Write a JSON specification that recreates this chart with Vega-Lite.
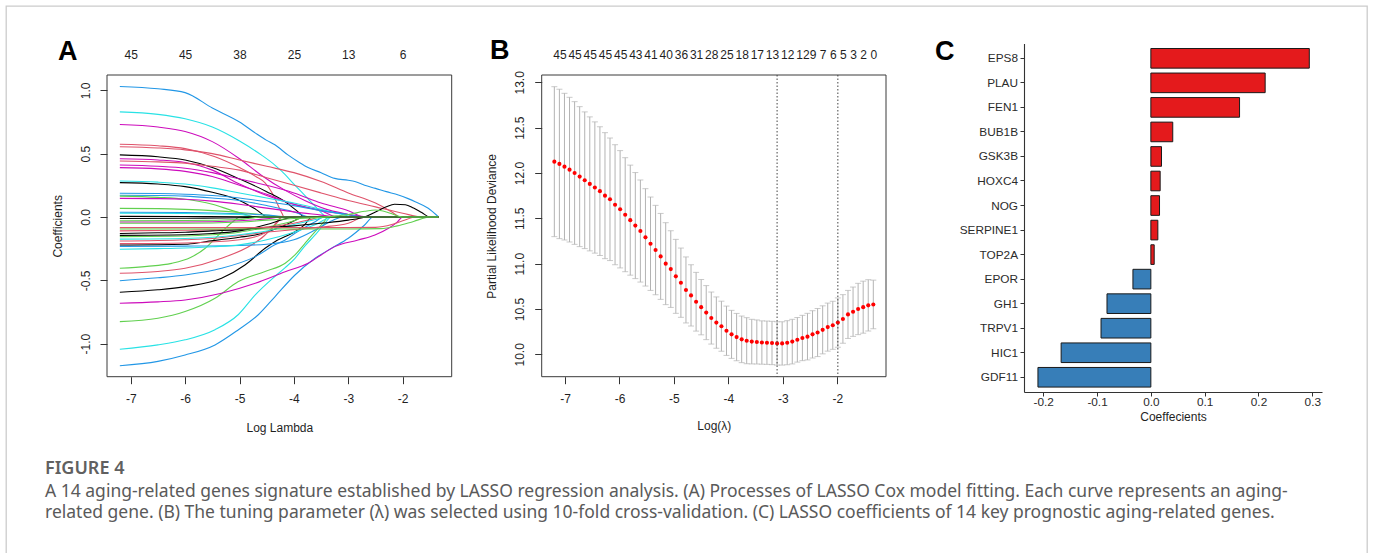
{
  "$schema": "https://vega.github.io/schema/vega-lite/v6.json",
  "width": 1361,
  "height": 547,
  "autosize": "none",
  "padding": {"left": 6, "top": 6, "right": 8, "bottom": 0},
  "background": "white",
  "config": {
    "font": "Liberation Sans",
    "view": {"stroke": "#cccccc", "strokeWidth": 1.3, "strokeDash": [1908, 1361, 547]},
    "axis": {
      "grid": false,
      "labelFont": "Liberation Sans",
      "titleFont": "Liberation Sans",
      "labelFontSize": 12,
      "titleFontSize": 12,
      "titleFontWeight": "normal",
      "labelColor": "#1f1f1f",
      "titleColor": "#1f1f1f",
      "tickColor": "#333333",
      "tickWidth": 1,
      "domainColor": "#333333",
      "labelOverlap": false,
      "labelFlush": false,
      "labelBound": false
    }
  },
  "title": {
    "text": "FIGURE 4",
    "subtitle": [
      "A 14 aging-related genes signature established by LASSO regression analysis. (A) Processes of LASSO Cox model fitting. Each curve represents an aging-",
      "related gene. (B) The tuning parameter (λ) was selected using 10-fold cross-validation. (C) LASSO coefficients of 14 key prognostic aging-related genes."
    ],
    "orient": "bottom",
    "anchor": "start",
    "frame": "group",
    "offset": -92.6,
    "dx": 39,
    "font": "Noto Sans",
    "fontSize": 18,
    "fontWeight": 600,
    "color": "#606060",
    "subtitleFont": "Noto Sans",
    "subtitleFontSize": 17.5,
    "subtitleColor": "#5a5a5a",
    "subtitlePadding": 4.6,
    "subtitleLineHeight": 21.3
  },
  "datasets": {
    "paths": [
      {"curve":"p1","pal":"4","logLambda":-7.2,"coef":1.03},{"curve":"p1","pal":"4","logLambda":-6.5,"coef":1.012},{"curve":"p1","pal":"4","logLambda":-6.0,"coef":0.982},{"curve":"p1","pal":"4","logLambda":-5.5,"coef":0.86},{"curve":"p1","pal":"4","logLambda":-5.0,"coef":0.75},{"curve":"p1","pal":"4","logLambda":-4.7,"coef":0.66},{"curve":"p1","pal":"4","logLambda":-4.5,"coef":0.605},{"curve":"p1","pal":"4","logLambda":-4.35,"coef":0.57},{"curve":"p1","pal":"4","logLambda":-4.11,"coef":0.49},{"curve":"p1","pal":"4","logLambda":-3.9,"coef":0.43},{"curve":"p1","pal":"4","logLambda":-3.74,"coef":0.39},{"curve":"p1","pal":"4","logLambda":-3.5,"coef":0.35},{"curve":"p1","pal":"4","logLambda":-3.25,"coef":0.305},{"curve":"p1","pal":"4","logLambda":-3.0,"coef":0.29},{"curve":"p1","pal":"4","logLambda":-2.88,"coef":0.28},{"curve":"p1","pal":"4","logLambda":-2.7,"coef":0.25},{"curve":"p1","pal":"4","logLambda":-2.5,"coef":0.226},{"curve":"p1","pal":"4","logLambda":-2.3,"coef":0.2},{"curve":"p1","pal":"4","logLambda":-2.08,"coef":0.174},{"curve":"p1","pal":"4","logLambda":-1.9,"coef":0.145},{"curve":"p1","pal":"4","logLambda":-1.77,"coef":0.121},{"curve":"p1","pal":"4","logLambda":-1.53,"coef":0.069},{"curve":"p1","pal":"4","logLambda":-1.34,"coef":0},
      {"curve":"p2","pal":"5","logLambda":-7.2,"coef":0.83},{"curve":"p2","pal":"5","logLambda":-6.5,"coef":0.81},{"curve":"p2","pal":"5","logLambda":-6.0,"coef":0.775},{"curve":"p2","pal":"5","logLambda":-5.5,"coef":0.71},{"curve":"p2","pal":"5","logLambda":-5.0,"coef":0.6},{"curve":"p2","pal":"5","logLambda":-4.6,"coef":0.49},{"curve":"p2","pal":"5","logLambda":-4.35,"coef":0.41},{"curve":"p2","pal":"5","logLambda":-4.22,"coef":0.36},{"curve":"p2","pal":"5","logLambda":-4.0,"coef":0.26},{"curve":"p2","pal":"5","logLambda":-3.8,"coef":0.17},{"curve":"p2","pal":"5","logLambda":-3.6,"coef":0.08},{"curve":"p2","pal":"5","logLambda":-3.5,"coef":0.035},{"curve":"p2","pal":"5","logLambda":-3.4,"coef":0},{"curve":"p2","pal":"5","logLambda":-1.34,"coef":0},
      {"curve":"p3","pal":"6","logLambda":-7.2,"coef":0.73},{"curve":"p3","pal":"6","logLambda":-6.5,"coef":0.71},{"curve":"p3","pal":"6","logLambda":-6.0,"coef":0.675},{"curve":"p3","pal":"6","logLambda":-5.5,"coef":0.595},{"curve":"p3","pal":"6","logLambda":-5.0,"coef":0.46},{"curve":"p3","pal":"6","logLambda":-4.6,"coef":0.33},{"curve":"p3","pal":"6","logLambda":-4.16,"coef":0.21},{"curve":"p3","pal":"6","logLambda":-3.8,"coef":0.13},{"curve":"p3","pal":"6","logLambda":-3.4,"coef":0.06},{"curve":"p3","pal":"6","logLambda":-3.0,"coef":0.02},{"curve":"p3","pal":"6","logLambda":-2.8,"coef":0},{"curve":"p3","pal":"6","logLambda":-1.34,"coef":0},
      {"curve":"p4","pal":"2","logLambda":-7.2,"coef":0.574},{"curve":"p4","pal":"2","logLambda":-6.5,"coef":0.562},{"curve":"p4","pal":"2","logLambda":-6.0,"coef":0.54},{"curve":"p4","pal":"2","logLambda":-5.45,"coef":0.476},{"curve":"p4","pal":"2","logLambda":-5.0,"coef":0.39},{"curve":"p4","pal":"2","logLambda":-4.7,"coef":0.32},{"curve":"p4","pal":"2","logLambda":-4.53,"coef":0.27},{"curve":"p4","pal":"2","logLambda":-4.4,"coef":0.19},{"curve":"p4","pal":"2","logLambda":-4.3,"coef":0.1},{"curve":"p4","pal":"2","logLambda":-4.22,"coef":0.03},{"curve":"p4","pal":"2","logLambda":-4.18,"coef":0},{"curve":"p4","pal":"2","logLambda":-1.34,"coef":0},
      {"curve":"p5","pal":"2","logLambda":-7.2,"coef":0.555},{"curve":"p5","pal":"2","logLambda":-6.5,"coef":0.545},{"curve":"p5","pal":"2","logLambda":-6.0,"coef":0.53},{"curve":"p5","pal":"2","logLambda":-5.5,"coef":0.5},{"curve":"p5","pal":"2","logLambda":-5.0,"coef":0.45},{"curve":"p5","pal":"2","logLambda":-4.5,"coef":0.4},{"curve":"p5","pal":"2","logLambda":-4.0,"coef":0.35},{"curve":"p5","pal":"2","logLambda":-3.5,"coef":0.28},{"curve":"p5","pal":"2","logLambda":-3.0,"coef":0.19},{"curve":"p5","pal":"2","logLambda":-2.5,"coef":0.11},{"curve":"p5","pal":"2","logLambda":-2.2,"coef":0.04},{"curve":"p5","pal":"2","logLambda":-2.05,"coef":0},{"curve":"p5","pal":"2","logLambda":-1.34,"coef":0},
      {"curve":"p6","pal":"1","logLambda":-7.2,"coef":0.49},{"curve":"p6","pal":"1","logLambda":-6.5,"coef":0.475},{"curve":"p6","pal":"1","logLambda":-6.0,"coef":0.45},{"curve":"p6","pal":"1","logLambda":-5.5,"coef":0.39},{"curve":"p6","pal":"1","logLambda":-5.0,"coef":0.3},{"curve":"p6","pal":"1","logLambda":-4.5,"coef":0.2},{"curve":"p6","pal":"1","logLambda":-4.16,"coef":0.12},{"curve":"p6","pal":"1","logLambda":-3.95,"coef":0.05},{"curve":"p6","pal":"1","logLambda":-3.8,"coef":0},{"curve":"p6","pal":"1","logLambda":-1.34,"coef":0},
      {"curve":"p7","pal":"6","logLambda":-7.2,"coef":0.46},{"curve":"p7","pal":"6","logLambda":-6.5,"coef":0.45},{"curve":"p7","pal":"6","logLambda":-6.0,"coef":0.43},{"curve":"p7","pal":"6","logLambda":-5.5,"coef":0.37},{"curve":"p7","pal":"6","logLambda":-5.0,"coef":0.26},{"curve":"p7","pal":"6","logLambda":-4.5,"coef":0.17},{"curve":"p7","pal":"6","logLambda":-4.0,"coef":0.1},{"curve":"p7","pal":"6","logLambda":-3.5,"coef":0.05},{"curve":"p7","pal":"6","logLambda":-3.0,"coef":0.02},{"curve":"p7","pal":"6","logLambda":-2.6,"coef":0},{"curve":"p7","pal":"6","logLambda":-1.34,"coef":0},
      {"curve":"p8","pal":"2","logLambda":-7.2,"coef":0.442},{"curve":"p8","pal":"2","logLambda":-6.5,"coef":0.435},{"curve":"p8","pal":"2","logLambda":-6.0,"coef":0.425},{"curve":"p8","pal":"2","logLambda":-5.5,"coef":0.4},{"curve":"p8","pal":"2","logLambda":-5.0,"coef":0.37},{"curve":"p8","pal":"2","logLambda":-4.5,"coef":0.31},{"curve":"p8","pal":"2","logLambda":-4.0,"coef":0.25},{"curve":"p8","pal":"2","logLambda":-3.5,"coef":0.19},{"curve":"p8","pal":"2","logLambda":-3.0,"coef":0.13},{"curve":"p8","pal":"2","logLambda":-2.5,"coef":0.08},{"curve":"p8","pal":"2","logLambda":-2.0,"coef":0.03},{"curve":"p8","pal":"2","logLambda":-1.65,"coef":0},{"curve":"p8","pal":"2","logLambda":-1.34,"coef":0},
      {"curve":"p9","pal":"6","logLambda":-7.2,"coef":0.41},{"curve":"p9","pal":"6","logLambda":-6.5,"coef":0.4},{"curve":"p9","pal":"6","logLambda":-6.0,"coef":0.385},{"curve":"p9","pal":"6","logLambda":-5.5,"coef":0.35},{"curve":"p9","pal":"6","logLambda":-5.0,"coef":0.3},{"curve":"p9","pal":"6","logLambda":-4.5,"coef":0.25},{"curve":"p9","pal":"6","logLambda":-4.0,"coef":0.19},{"curve":"p9","pal":"6","logLambda":-3.5,"coef":0.11},{"curve":"p9","pal":"6","logLambda":-3.0,"coef":0.05},{"curve":"p9","pal":"6","logLambda":-2.7,"coef":0},{"curve":"p9","pal":"6","logLambda":-1.34,"coef":0},
      {"curve":"p10","pal":"6","logLambda":-7.2,"coef":0.39},{"curve":"p10","pal":"6","logLambda":-6.5,"coef":0.38},{"curve":"p10","pal":"6","logLambda":-6.0,"coef":0.36},{"curve":"p10","pal":"6","logLambda":-5.5,"coef":0.32},{"curve":"p10","pal":"6","logLambda":-5.0,"coef":0.25},{"curve":"p10","pal":"6","logLambda":-4.5,"coef":0.18},{"curve":"p10","pal":"6","logLambda":-4.0,"coef":0.1},{"curve":"p10","pal":"6","logLambda":-3.5,"coef":0.05},{"curve":"p10","pal":"6","logLambda":-3.2,"coef":0},{"curve":"p10","pal":"6","logLambda":-1.34,"coef":0},
      {"curve":"p11","pal":"5","logLambda":-7.2,"coef":0.284},{"curve":"p11","pal":"5","logLambda":-6.5,"coef":0.275},{"curve":"p11","pal":"5","logLambda":-6.0,"coef":0.26},{"curve":"p11","pal":"5","logLambda":-5.5,"coef":0.23},{"curve":"p11","pal":"5","logLambda":-5.0,"coef":0.19},{"curve":"p11","pal":"5","logLambda":-4.5,"coef":0.15},{"curve":"p11","pal":"5","logLambda":-4.0,"coef":0.11},{"curve":"p11","pal":"5","logLambda":-3.5,"coef":0.06},{"curve":"p11","pal":"5","logLambda":-3.1,"coef":0.02},{"curve":"p11","pal":"5","logLambda":-2.9,"coef":0},{"curve":"p11","pal":"5","logLambda":-1.34,"coef":0},
      {"curve":"p12","pal":"1","logLambda":-7.2,"coef":0.271},{"curve":"p12","pal":"1","logLambda":-6.5,"coef":0.26},{"curve":"p12","pal":"1","logLambda":-6.0,"coef":0.24},{"curve":"p12","pal":"1","logLambda":-5.5,"coef":0.195},{"curve":"p12","pal":"1","logLambda":-5.0,"coef":0.13},{"curve":"p12","pal":"1","logLambda":-4.7,"coef":0.06},{"curve":"p12","pal":"1","logLambda":-4.47,"coef":0},{"curve":"p12","pal":"1","logLambda":-1.34,"coef":0},
      {"curve":"p13","pal":"4","logLambda":-7.2,"coef":0.187},{"curve":"p13","pal":"4","logLambda":-6.5,"coef":0.185},{"curve":"p13","pal":"4","logLambda":-6.0,"coef":0.18},{"curve":"p13","pal":"4","logLambda":-5.5,"coef":0.17},{"curve":"p13","pal":"4","logLambda":-5.0,"coef":0.15},{"curve":"p13","pal":"4","logLambda":-4.5,"coef":0.12},{"curve":"p13","pal":"4","logLambda":-4.0,"coef":0.09},{"curve":"p13","pal":"4","logLambda":-3.5,"coef":0.05},{"curve":"p13","pal":"4","logLambda":-3.0,"coef":0.02},{"curve":"p13","pal":"4","logLambda":-2.7,"coef":0},{"curve":"p13","pal":"4","logLambda":-1.34,"coef":0},
      {"curve":"p14","pal":"4","logLambda":-7.2,"coef":0.172},{"curve":"p14","pal":"4","logLambda":-6.5,"coef":0.17},{"curve":"p14","pal":"4","logLambda":-6.0,"coef":0.165},{"curve":"p14","pal":"4","logLambda":-5.5,"coef":0.15},{"curve":"p14","pal":"4","logLambda":-5.0,"coef":0.13},{"curve":"p14","pal":"4","logLambda":-4.5,"coef":0.09},{"curve":"p14","pal":"4","logLambda":-4.0,"coef":0.04},{"curve":"p14","pal":"4","logLambda":-3.7,"coef":0},{"curve":"p14","pal":"4","logLambda":-1.34,"coef":0},
      {"curve":"p15","pal":"3","logLambda":-7.2,"coef":0.165},{"curve":"p15","pal":"3","logLambda":-6.5,"coef":0.155},{"curve":"p15","pal":"3","logLambda":-6.0,"coef":0.14},{"curve":"p15","pal":"3","logLambda":-5.5,"coef":0.1},{"curve":"p15","pal":"3","logLambda":-5.2,"coef":0.06},{"curve":"p15","pal":"3","logLambda":-4.9,"coef":0.02},{"curve":"p15","pal":"3","logLambda":-4.7,"coef":0},{"curve":"p15","pal":"3","logLambda":-1.34,"coef":0},
      {"curve":"p16","pal":"6","logLambda":-7.2,"coef":0.147},{"curve":"p16","pal":"6","logLambda":-6.5,"coef":0.145},{"curve":"p16","pal":"6","logLambda":-6.0,"coef":0.14},{"curve":"p16","pal":"6","logLambda":-5.5,"coef":0.125},{"curve":"p16","pal":"6","logLambda":-5.0,"coef":0.1},{"curve":"p16","pal":"6","logLambda":-4.5,"coef":0.07},{"curve":"p16","pal":"6","logLambda":-4.0,"coef":0.04},{"curve":"p16","pal":"6","logLambda":-3.5,"coef":0.015},{"curve":"p16","pal":"6","logLambda":-3.2,"coef":0},{"curve":"p16","pal":"6","logLambda":-1.34,"coef":0},
      {"curve":"p17","pal":"3","logLambda":-7.2,"coef":0.068},{"curve":"p17","pal":"3","logLambda":-6.5,"coef":0.066},{"curve":"p17","pal":"3","logLambda":-6.0,"coef":0.06},{"curve":"p17","pal":"3","logLambda":-5.5,"coef":0.05},{"curve":"p17","pal":"3","logLambda":-5.0,"coef":0.035},{"curve":"p17","pal":"3","logLambda":-4.5,"coef":0.015},{"curve":"p17","pal":"3","logLambda":-4.2,"coef":0},{"curve":"p17","pal":"3","logLambda":-1.34,"coef":0},
      {"curve":"p18","pal":"4","logLambda":-7.2,"coef":0.037},{"curve":"p18","pal":"4","logLambda":-6.0,"coef":0.035},{"curve":"p18","pal":"4","logLambda":-5.0,"coef":0.025},{"curve":"p18","pal":"4","logLambda":-4.5,"coef":0.015},{"curve":"p18","pal":"4","logLambda":-4.0,"coef":0},{"curve":"p18","pal":"4","logLambda":-1.34,"coef":0},
      {"curve":"p19","pal":"5","logLambda":-7.2,"coef":0.03},{"curve":"p19","pal":"5","logLambda":-6.0,"coef":0.028},{"curve":"p19","pal":"5","logLambda":-5.0,"coef":0.02},{"curve":"p19","pal":"5","logLambda":-4.7,"coef":0},{"curve":"p19","pal":"5","logLambda":-1.34,"coef":0},
      {"curve":"n20","pal":"4","logLambda":-7.2,"coef":-1.174},{"curve":"n20","pal":"4","logLambda":-6.5,"coef":-1.14},{"curve":"n20","pal":"4","logLambda":-6.0,"coef":-1.09},{"curve":"n20","pal":"4","logLambda":-5.45,"coef":-1.01},{"curve":"n20","pal":"4","logLambda":-5.02,"coef":-0.89},{"curve":"n20","pal":"4","logLambda":-4.65,"coef":-0.77},{"curve":"n20","pal":"4","logLambda":-4.35,"coef":-0.63},{"curve":"n20","pal":"4","logLambda":-3.98,"coef":-0.458},{"curve":"n20","pal":"4","logLambda":-3.61,"coef":-0.326},{"curve":"n20","pal":"4","logLambda":-3.31,"coef":-0.247},{"curve":"n20","pal":"4","logLambda":-3.0,"coef":-0.168},{"curve":"n20","pal":"4","logLambda":-2.7,"coef":-0.063},{"curve":"n20","pal":"4","logLambda":-2.54,"coef":0},{"curve":"n20","pal":"4","logLambda":-1.34,"coef":0},
      {"curve":"n19","pal":"5","logLambda":-7.2,"coef":-1.044},{"curve":"n19","pal":"5","logLambda":-6.5,"coef":-1.01},{"curve":"n19","pal":"5","logLambda":-6.0,"coef":-0.97},{"curve":"n19","pal":"5","logLambda":-5.45,"coef":-0.89},{"curve":"n19","pal":"5","logLambda":-5.02,"coef":-0.77},{"curve":"n19","pal":"5","logLambda":-4.71,"coef":-0.615},{"curve":"n19","pal":"5","logLambda":-4.35,"coef":-0.47},{"curve":"n19","pal":"5","logLambda":-4.16,"coef":-0.4},{"curve":"n19","pal":"5","logLambda":-3.98,"coef":-0.326},{"curve":"n19","pal":"5","logLambda":-3.8,"coef":-0.23},{"curve":"n19","pal":"5","logLambda":-3.61,"coef":-0.142},{"curve":"n19","pal":"5","logLambda":-3.45,"coef":-0.06},{"curve":"n19","pal":"5","logLambda":-3.31,"coef":0},{"curve":"n19","pal":"5","logLambda":-1.34,"coef":0},
      {"curve":"n18","pal":"3","logLambda":-7.2,"coef":-0.826},{"curve":"n18","pal":"3","logLambda":-6.5,"coef":-0.8},{"curve":"n18","pal":"3","logLambda":-6.0,"coef":-0.747},{"curve":"n18","pal":"3","logLambda":-5.45,"coef":-0.642},{"curve":"n18","pal":"3","logLambda":-5.02,"coef":-0.51},{"curve":"n18","pal":"3","logLambda":-4.53,"coef":-0.43},{"curve":"n18","pal":"3","logLambda":-4.16,"coef":-0.365},{"curve":"n18","pal":"3","logLambda":-3.98,"coef":-0.3},{"curve":"n18","pal":"3","logLambda":-3.8,"coef":-0.21},{"curve":"n18","pal":"3","logLambda":-3.61,"coef":-0.116},{"curve":"n18","pal":"3","logLambda":-3.45,"coef":-0.04},{"curve":"n18","pal":"3","logLambda":-3.37,"coef":0},{"curve":"n18","pal":"3","logLambda":-1.34,"coef":0},
      {"curve":"n17","pal":"6","logLambda":-7.2,"coef":-0.681},{"curve":"n17","pal":"6","logLambda":-6.5,"coef":-0.67},{"curve":"n17","pal":"6","logLambda":-6.0,"coef":-0.655},{"curve":"n17","pal":"6","logLambda":-5.33,"coef":-0.602},{"curve":"n17","pal":"6","logLambda":-4.71,"coef":-0.523},{"curve":"n17","pal":"6","logLambda":-4.16,"coef":-0.432},{"curve":"n17","pal":"6","logLambda":-3.74,"coef":-0.366},{"curve":"n17","pal":"6","logLambda":-3.5,"coef":-0.3},{"curve":"n17","pal":"6","logLambda":-3.25,"coef":-0.234},{"curve":"n17","pal":"6","logLambda":-2.82,"coef":-0.182},{"curve":"n17","pal":"6","logLambda":-2.51,"coef":-0.142},{"curve":"n17","pal":"6","logLambda":-2.26,"coef":-0.089},{"curve":"n17","pal":"6","logLambda":-2.1,"coef":-0.04},{"curve":"n17","pal":"6","logLambda":-2.0,"coef":0},{"curve":"n17","pal":"6","logLambda":-1.34,"coef":0},
      {"curve":"n16","pal":"1","logLambda":-7.2,"coef":-0.594},{"curve":"n16","pal":"1","logLambda":-6.5,"coef":-0.575},{"curve":"n16","pal":"1","logLambda":-6.0,"coef":-0.55},{"curve":"n16","pal":"1","logLambda":-5.33,"coef":-0.484},{"curve":"n16","pal":"1","logLambda":-4.9,"coef":-0.379},{"curve":"n16","pal":"1","logLambda":-4.53,"coef":-0.247},{"curve":"n16","pal":"1","logLambda":-4.35,"coef":-0.195},{"curve":"n16","pal":"1","logLambda":-4.16,"coef":-0.155},{"curve":"n16","pal":"1","logLambda":-3.98,"coef":-0.116},{"curve":"n16","pal":"1","logLambda":-3.8,"coef":-0.06},{"curve":"n16","pal":"1","logLambda":-3.67,"coef":0},{"curve":"n16","pal":"1","logLambda":-1.34,"coef":0},
      {"curve":"n15","pal":"4","logLambda":-7.2,"coef":-0.503},{"curve":"n15","pal":"4","logLambda":-6.5,"coef":-0.48},{"curve":"n15","pal":"4","logLambda":-6.0,"coef":-0.458},{"curve":"n15","pal":"4","logLambda":-5.33,"coef":-0.405},{"curve":"n15","pal":"4","logLambda":-4.71,"coef":-0.313},{"curve":"n15","pal":"4","logLambda":-4.35,"coef":-0.22},{"curve":"n15","pal":"4","logLambda":-4.16,"coef":-0.182},{"curve":"n15","pal":"4","logLambda":-3.98,"coef":-0.129},{"curve":"n15","pal":"4","logLambda":-3.61,"coef":-0.037},{"curve":"n15","pal":"4","logLambda":-3.45,"coef":0},{"curve":"n15","pal":"4","logLambda":-1.34,"coef":0},
      {"curve":"n14","pal":"2","logLambda":-7.2,"coef":-0.444},{"curve":"n14","pal":"2","logLambda":-6.5,"coef":-0.43},{"curve":"n14","pal":"2","logLambda":-6.0,"coef":-0.405},{"curve":"n14","pal":"2","logLambda":-5.33,"coef":-0.326},{"curve":"n14","pal":"2","logLambda":-4.78,"coef":-0.221},{"curve":"n14","pal":"2","logLambda":-4.55,"coef":-0.15},{"curve":"n14","pal":"2","logLambda":-4.41,"coef":-0.09},{"curve":"n14","pal":"2","logLambda":-4.3,"coef":-0.03},{"curve":"n14","pal":"2","logLambda":-4.23,"coef":0},{"curve":"n14","pal":"2","logLambda":-1.34,"coef":0},
      {"curve":"n13","pal":"3","logLambda":-7.2,"coef":-0.405},{"curve":"n13","pal":"3","logLambda":-6.7,"coef":-0.39},{"curve":"n13","pal":"3","logLambda":-6.25,"coef":-0.366},{"curve":"n13","pal":"3","logLambda":-5.9,"coef":-0.32},{"curve":"n13","pal":"3","logLambda":-5.63,"coef":-0.247},{"curve":"n13","pal":"3","logLambda":-5.45,"coef":-0.17},{"curve":"n13","pal":"3","logLambda":-5.26,"coef":-0.09},{"curve":"n13","pal":"3","logLambda":-5.1,"coef":-0.03},{"curve":"n13","pal":"3","logLambda":-5.0,"coef":0},{"curve":"n13","pal":"3","logLambda":-1.34,"coef":0},
      {"curve":"n12","pal":"4","logLambda":-7.2,"coef":-0.232},{"curve":"n12","pal":"4","logLambda":-6.0,"coef":-0.23},{"curve":"n12","pal":"4","logLambda":-5.0,"coef":-0.225},{"curve":"n12","pal":"4","logLambda":-4.5,"coef":-0.215},{"curve":"n12","pal":"4","logLambda":-4.0,"coef":-0.18},{"curve":"n12","pal":"4","logLambda":-3.6,"coef":-0.1},{"curve":"n12","pal":"4","logLambda":-3.3,"coef":-0.03},{"curve":"n12","pal":"4","logLambda":-3.1,"coef":0},{"curve":"n12","pal":"4","logLambda":-1.34,"coef":0},
      {"curve":"n11","pal":"5","logLambda":-7.2,"coef":-0.255},{"curve":"n11","pal":"5","logLambda":-6.5,"coef":-0.25},{"curve":"n11","pal":"5","logLambda":-6.0,"coef":-0.245},{"curve":"n11","pal":"5","logLambda":-5.5,"coef":-0.235},{"curve":"n11","pal":"5","logLambda":-5.0,"coef":-0.22},{"curve":"n11","pal":"5","logLambda":-4.5,"coef":-0.18},{"curve":"n11","pal":"5","logLambda":-4.0,"coef":-0.12},{"curve":"n11","pal":"5","logLambda":-3.6,"coef":-0.06},{"curve":"n11","pal":"5","logLambda":-3.3,"coef":0},{"curve":"n11","pal":"5","logLambda":-1.34,"coef":0},
      {"curve":"n10","pal":"1","logLambda":-7.2,"coef":-0.221},{"curve":"n10","pal":"1","logLambda":-6.0,"coef":-0.215},{"curve":"n10","pal":"1","logLambda":-5.63,"coef":-0.195},{"curve":"n10","pal":"1","logLambda":-5.0,"coef":-0.16},{"curve":"n10","pal":"1","logLambda":-4.71,"coef":-0.142},{"curve":"n10","pal":"1","logLambda":-4.16,"coef":-0.063},{"curve":"n10","pal":"1","logLambda":-3.95,"coef":-0.02},{"curve":"n10","pal":"1","logLambda":-3.85,"coef":0},{"curve":"n10","pal":"1","logLambda":-1.34,"coef":0},
      {"curve":"n9","pal":"2","logLambda":-7.2,"coef":-0.21},{"curve":"n9","pal":"2","logLambda":-6.0,"coef":-0.205},{"curve":"n9","pal":"2","logLambda":-5.0,"coef":-0.18},{"curve":"n9","pal":"2","logLambda":-4.6,"coef":-0.14},{"curve":"n9","pal":"2","logLambda":-4.4,"coef":-0.09},{"curve":"n9","pal":"2","logLambda":-4.28,"coef":-0.03},{"curve":"n9","pal":"2","logLambda":-4.22,"coef":0},{"curve":"n9","pal":"2","logLambda":-1.34,"coef":0},
      {"curve":"n8","pal":"2","logLambda":-7.2,"coef":-0.19},{"curve":"n8","pal":"2","logLambda":-6.0,"coef":-0.18},{"curve":"n8","pal":"2","logLambda":-5.5,"coef":-0.17},{"curve":"n8","pal":"2","logLambda":-5.0,"coef":-0.145},{"curve":"n8","pal":"2","logLambda":-4.5,"coef":-0.12},{"curve":"n8","pal":"2","logLambda":-4.0,"coef":-0.1},{"curve":"n8","pal":"2","logLambda":-3.5,"coef":-0.08},{"curve":"n8","pal":"2","logLambda":-3.0,"coef":-0.05},{"curve":"n8","pal":"2","logLambda":-2.7,"coef":0},{"curve":"n8","pal":"2","logLambda":-1.34,"coef":0},
      {"curve":"n7","pal":"5","logLambda":-7.2,"coef":-0.175},{"curve":"n7","pal":"5","logLambda":-6.0,"coef":-0.17},{"curve":"n7","pal":"5","logLambda":-5.5,"coef":-0.16},{"curve":"n7","pal":"5","logLambda":-5.0,"coef":-0.14},{"curve":"n7","pal":"5","logLambda":-4.5,"coef":-0.11},{"curve":"n7","pal":"5","logLambda":-4.0,"coef":-0.06},{"curve":"n7","pal":"5","logLambda":-3.6,"coef":-0.02},{"curve":"n7","pal":"5","logLambda":-3.4,"coef":0},{"curve":"n7","pal":"5","logLambda":-1.34,"coef":0},
      {"curve":"n6","pal":"3","logLambda":-7.2,"coef":-0.155},{"curve":"n6","pal":"3","logLambda":-6.0,"coef":-0.15},{"curve":"n6","pal":"3","logLambda":-5.5,"coef":-0.14},{"curve":"n6","pal":"3","logLambda":-5.0,"coef":-0.12},{"curve":"n6","pal":"3","logLambda":-4.5,"coef":-0.08},{"curve":"n6","pal":"3","logLambda":-4.0,"coef":-0.03},{"curve":"n6","pal":"3","logLambda":-3.8,"coef":0},{"curve":"n6","pal":"3","logLambda":-1.34,"coef":0},
      {"curve":"n5","pal":"2","logLambda":-7.2,"coef":-0.11},{"curve":"n5","pal":"2","logLambda":-6.0,"coef":-0.105},{"curve":"n5","pal":"2","logLambda":-5.0,"coef":-0.095},{"curve":"n5","pal":"2","logLambda":-4.5,"coef":-0.08},{"curve":"n5","pal":"2","logLambda":-4.0,"coef":-0.05},{"curve":"n5","pal":"2","logLambda":-3.7,"coef":-0.02},{"curve":"n5","pal":"2","logLambda":-3.5,"coef":0},{"curve":"n5","pal":"2","logLambda":-1.34,"coef":0},
      {"curve":"n1","pal":"1","logLambda":-7.2,"coef":-0.13},{"curve":"n1","pal":"1","logLambda":-6.5,"coef":-0.125},{"curve":"n1","pal":"1","logLambda":-6.0,"coef":-0.12},{"curve":"n1","pal":"1","logLambda":-5.5,"coef":-0.11},{"curve":"n1","pal":"1","logLambda":-5.0,"coef":-0.1},{"curve":"n1","pal":"1","logLambda":-4.5,"coef":-0.085},{"curve":"n1","pal":"1","logLambda":-4.0,"coef":-0.07},{"curve":"n1","pal":"1","logLambda":-3.5,"coef":-0.05},{"curve":"n1","pal":"1","logLambda":-3.0,"coef":-0.025},{"curve":"n1","pal":"1","logLambda":-2.7,"coef":0},{"curve":"n1","pal":"1","logLambda":-2.5,"coef":0.04},{"curve":"n1","pal":"1","logLambda":-2.3,"coef":0.08},{"curve":"n1","pal":"1","logLambda":-2.15,"coef":0.1},{"curve":"n1","pal":"1","logLambda":-1.95,"coef":0.097},{"curve":"n1","pal":"1","logLambda":-1.8,"coef":0.07},{"curve":"n1","pal":"1","logLambda":-1.65,"coef":0.035},{"curve":"n1","pal":"1","logLambda":-1.5,"coef":0},{"curve":"n1","pal":"1","logLambda":-1.34,"coef":0},
      {"curve":"n2","pal":"1","logLambda":-7.2,"coef":-0.145},{"curve":"n2","pal":"1","logLambda":-6.0,"coef":-0.14},{"curve":"n2","pal":"1","logLambda":-5.5,"coef":-0.13},{"curve":"n2","pal":"1","logLambda":-5.0,"coef":-0.11},{"curve":"n2","pal":"1","logLambda":-4.5,"coef":-0.06},{"curve":"n2","pal":"1","logLambda":-4.2,"coef":-0.02},{"curve":"n2","pal":"1","logLambda":-4.0,"coef":0},{"curve":"n2","pal":"1","logLambda":-1.34,"coef":0},
      {"curve":"n3","pal":"2","logLambda":-7.2,"coef":-0.084},{"curve":"n3","pal":"2","logLambda":-6.0,"coef":-0.084},{"curve":"n3","pal":"2","logLambda":-5.0,"coef":-0.084},{"curve":"n3","pal":"2","logLambda":-4.0,"coef":-0.084},{"curve":"n3","pal":"2","logLambda":-3.0,"coef":-0.084},{"curve":"n3","pal":"2","logLambda":-2.5,"coef":-0.082},{"curve":"n3","pal":"2","logLambda":-2.2,"coef":-0.06},{"curve":"n3","pal":"2","logLambda":-2.0,"coef":-0.03},{"curve":"n3","pal":"2","logLambda":-1.75,"coef":0},{"curve":"n3","pal":"2","logLambda":-1.34,"coef":0},
      {"curve":"n4","pal":"3","logLambda":-7.2,"coef":-0.095},{"curve":"n4","pal":"3","logLambda":-6.0,"coef":-0.095},{"curve":"n4","pal":"3","logLambda":-5.0,"coef":-0.095},{"curve":"n4","pal":"3","logLambda":-4.0,"coef":-0.095},{"curve":"n4","pal":"3","logLambda":-3.0,"coef":-0.095},{"curve":"n4","pal":"3","logLambda":-2.4,"coef":-0.092},{"curve":"n4","pal":"3","logLambda":-2.1,"coef":-0.07},{"curve":"n4","pal":"3","logLambda":-1.8,"coef":-0.035},{"curve":"n4","pal":"3","logLambda":-1.5,"coef":0},{"curve":"n4","pal":"3","logLambda":-1.34,"coef":0},
      {"curve":"n21","pal":"6","logLambda":-7.2,"coef":-0.04},{"curve":"n21","pal":"6","logLambda":-6.0,"coef":-0.04},{"curve":"n21","pal":"6","logLambda":-5.0,"coef":-0.03},{"curve":"n21","pal":"6","logLambda":-4.5,"coef":-0.015},{"curve":"n21","pal":"6","logLambda":-4.2,"coef":0},{"curve":"n21","pal":"6","logLambda":-1.34,"coef":0},
      {"curve":"n24","pal":"1","logLambda":-7.2,"coef":-0.012},{"curve":"n24","pal":"1","logLambda":-6.0,"coef":-0.01},{"curve":"n24","pal":"1","logLambda":-5.0,"coef":-0.006},{"curve":"n24","pal":"1","logLambda":-4.4,"coef":0},{"curve":"n24","pal":"1","logLambda":-1.34,"coef":0},
      {"curve":"p20","pal":"1","logLambda":-7.2,"coef":0.005},{"curve":"p20","pal":"1","logLambda":-6.0,"coef":0.004},{"curve":"p20","pal":"1","logLambda":-5.0,"coef":0.002},{"curve":"p20","pal":"1","logLambda":-4.5,"coef":0},{"curve":"p20","pal":"1","logLambda":-1.34,"coef":0},
      {"curve":"p21","pal":"3","logLambda":-7.2,"coef":-0.05},{"curve":"p21","pal":"3","logLambda":-6.0,"coef":-0.05},{"curve":"p21","pal":"3","logLambda":-5.0,"coef":-0.04},{"curve":"p21","pal":"3","logLambda":-4.5,"coef":-0.025},{"curve":"p21","pal":"3","logLambda":-4.0,"coef":-0.012},{"curve":"p21","pal":"3","logLambda":-3.5,"coef":-0.003},{"curve":"p21","pal":"3","logLambda":-3.2,"coef":0.01},{"curve":"p21","pal":"3","logLambda":-3.0,"coef":0.02},{"curve":"p21","pal":"3","logLambda":-2.7,"coef":0.045},{"curve":"p21","pal":"3","logLambda":-2.5,"coef":0.055},{"curve":"p21","pal":"3","logLambda":-2.3,"coef":0.04},{"curve":"p21","pal":"3","logLambda":-2.1,"coef":0.01},{"curve":"p21","pal":"3","logLambda":-2.0,"coef":0},{"curve":"p21","pal":"3","logLambda":-1.34,"coef":0},
      {"curve":"n22","pal":"3","logLambda":-7.2,"coef":-0.03},{"curve":"n22","pal":"3","logLambda":-6.0,"coef":-0.028},{"curve":"n22","pal":"3","logLambda":-5.0,"coef":-0.02},{"curve":"n22","pal":"3","logLambda":-4.6,"coef":0},{"curve":"n22","pal":"3","logLambda":-1.34,"coef":0}
    ],
    "cv": [
      {"logLambda":-7.196,"cvm":12.125,"cvlo":11.298,"cvup":12.952},
      {"logLambda":-7.103,"cvm":12.1,"cvlo":11.276,"cvup":12.924},
      {"logLambda":-7.01,"cvm":12.07,"cvlo":11.261,"cvup":12.879},
      {"logLambda":-6.917,"cvm":12.037,"cvlo":11.239,"cvup":12.835},
      {"logLambda":-6.824,"cvm":12.0,"cvlo":11.213,"cvup":12.787},
      {"logLambda":-6.731,"cvm":11.96,"cvlo":11.188,"cvup":12.732},
      {"logLambda":-6.638,"cvm":11.92,"cvlo":11.166,"cvup":12.674},
      {"logLambda":-6.545,"cvm":11.88,"cvlo":11.141,"cvup":12.619},
      {"logLambda":-6.452,"cvm":11.84,"cvlo":11.116,"cvup":12.564},
      {"logLambda":-6.359,"cvm":11.8,"cvlo":11.09,"cvup":12.51},
      {"logLambda":-6.266,"cvm":11.75,"cvlo":11.055,"cvup":12.445},
      {"logLambda":-6.174,"cvm":11.71,"cvlo":11.034,"cvup":12.386},
      {"logLambda":-6.081,"cvm":11.65,"cvlo":10.988,"cvup":12.312},
      {"logLambda":-5.988,"cvm":11.6,"cvlo":10.953,"cvup":12.247},
      {"logLambda":-5.895,"cvm":11.54,"cvlo":10.911,"cvup":12.169},
      {"logLambda":-5.802,"cvm":11.48,"cvlo":10.873,"cvup":12.087},
      {"logLambda":-5.709,"cvm":11.42,"cvlo":10.835,"cvup":12.005},
      {"logLambda":-5.616,"cvm":11.36,"cvlo":10.797,"cvup":11.923},
      {"logLambda":-5.523,"cvm":11.29,"cvlo":10.753,"cvup":11.827},
      {"logLambda":-5.43,"cvm":11.22,"cvlo":10.705,"cvup":11.735},
      {"logLambda":-5.337,"cvm":11.15,"cvlo":10.657,"cvup":11.643},
      {"logLambda":-5.244,"cvm":11.08,"cvlo":10.606,"cvup":11.554},
      {"logLambda":-5.151,"cvm":11.0,"cvlo":10.548,"cvup":11.452},
      {"logLambda":-5.058,"cvm":10.94,"cvlo":10.517,"cvup":11.363},
      {"logLambda":-4.965,"cvm":10.86,"cvlo":10.452,"cvup":11.268},
      {"logLambda":-4.872,"cvm":10.79,"cvlo":10.408,"cvup":11.172},
      {"logLambda":-4.779,"cvm":10.71,"cvlo":10.346,"cvup":11.074},
      {"logLambda":-4.686,"cvm":10.65,"cvlo":10.312,"cvup":10.988},
      {"logLambda":-4.593,"cvm":10.58,"cvlo":10.256,"cvup":10.904},
      {"logLambda":-4.5,"cvm":10.52,"cvlo":10.215,"cvup":10.825},
      {"logLambda":-4.407,"cvm":10.46,"cvlo":10.162,"cvup":10.758},
      {"logLambda":-4.314,"cvm":10.4,"cvlo":10.113,"cvup":10.687},
      {"logLambda":-4.221,"cvm":10.35,"cvlo":10.067,"cvup":10.633},
      {"logLambda":-4.128,"cvm":10.31,"cvlo":10.034,"cvup":10.586},
      {"logLambda":-4.035,"cvm":10.26,"cvlo":9.988,"cvup":10.532},
      {"logLambda":-3.942,"cvm":10.22,"cvlo":9.955,"cvup":10.485},
      {"logLambda":-3.849,"cvm":10.19,"cvlo":9.929,"cvup":10.451},
      {"logLambda":-3.756,"cvm":10.165,"cvlo":9.908,"cvup":10.422},
      {"logLambda":-3.664,"cvm":10.15,"cvlo":9.896,"cvup":10.404},
      {"logLambda":-3.571,"cvm":10.14,"cvlo":9.894,"cvup":10.386},
      {"logLambda":-3.478,"cvm":10.136,"cvlo":9.893,"cvup":10.379},
      {"logLambda":-3.385,"cvm":10.13,"cvlo":9.891,"cvup":10.369},
      {"logLambda":-3.292,"cvm":10.128,"cvlo":9.889,"cvup":10.367},
      {"logLambda":-3.199,"cvm":10.125,"cvlo":9.886,"cvup":10.364},
      {"logLambda":-3.106,"cvm":10.12,"cvlo":9.881,"cvup":10.359},
      {"logLambda":-3.013,"cvm":10.12,"cvlo":9.881,"cvup":10.359},
      {"logLambda":-2.92,"cvm":10.128,"cvlo":9.885,"cvup":10.371},
      {"logLambda":-2.827,"cvm":10.14,"cvlo":9.894,"cvup":10.386},
      {"logLambda":-2.734,"cvm":10.16,"cvlo":9.914,"cvup":10.406},
      {"logLambda":-2.641,"cvm":10.18,"cvlo":9.93,"cvup":10.43},
      {"logLambda":-2.548,"cvm":10.195,"cvlo":9.938,"cvup":10.452},
      {"logLambda":-2.455,"cvm":10.22,"cvlo":9.959,"cvup":10.481},
      {"logLambda":-2.362,"cvm":10.24,"cvlo":9.975,"cvup":10.505},
      {"logLambda":-2.269,"cvm":10.27,"cvlo":10.005,"cvup":10.535},
      {"logLambda":-2.176,"cvm":10.3,"cvlo":10.035,"cvup":10.565},
      {"logLambda":-2.083,"cvm":10.32,"cvlo":10.055,"cvup":10.585},
      {"logLambda":-1.99,"cvm":10.35,"cvlo":10.078,"cvup":10.622},
      {"logLambda":-1.897,"cvm":10.39,"cvlo":10.122,"cvup":10.658},
      {"logLambda":-1.804,"cvm":10.44,"cvlo":10.175,"cvup":10.705},
      {"logLambda":-1.711,"cvm":10.47,"cvlo":10.198,"cvup":10.742},
      {"logLambda":-1.618,"cvm":10.5,"cvlo":10.217,"cvup":10.783},
      {"logLambda":-1.525,"cvm":10.52,"cvlo":10.233,"cvup":10.807},
      {"logLambda":-1.432,"cvm":10.54,"cvlo":10.257,"cvup":10.823},
      {"logLambda":-1.339,"cvm":10.55,"cvlo":10.282,"cvup":10.818}
    ],
    "coefs": [
      {"gene":"EPS8","coef":0.2944},
      {"gene":"PLAU","coef":0.2124},
      {"gene":"FEN1","coef":0.1648},
      {"gene":"BUB1B","coef":0.0407},
      {"gene":"GSK3B","coef":0.0198},
      {"gene":"HOXC4","coef":0.0173},
      {"gene":"NOG","coef":0.0161},
      {"gene":"SERPINE1","coef":0.013},
      {"gene":"TOP2A","coef":0.0062},
      {"gene":"EPOR","coef":-0.0333},
      {"gene":"GH1","coef":-0.0815},
      {"gene":"TRPV1","coef":-0.0926},
      {"gene":"HIC1","coef":-0.1667},
      {"gene":"GDF11","coef":-0.2098}
    ]
  },
  "layer": [
    {
      "data": {"name": "paths"},
      "layer": [
        {
          "mark": {"type": "line", "strokeWidth": 1.1, "interpolate": "monotone"},
          "encoding": {
            "x": {"field": "logLambda", "type": "quantitative",
              "scale": {"domain": [-7.436, -1.099], "range": [101, 445.7], "nice": false, "zero": false},
              "axis": {"orient": "bottom", "offset": -176.3, "values": [-7, -6, -5, -4, -3, -2], "domain": false, "tickSize": 7,
                "labelPadding": 19, "labelBaseline": "alphabetic", "labelExpr": "replace(format(datum.value,'d'),'\u2212','-')",
                "title": "Log Lambda", "titleX": 273.35, "titleY": 55.1, "titleBaseline": "alphabetic", "titleAlign": "center"}},
            "y": {"field": "coef", "type": "quantitative",
              "scale": {"domain": [-1.261, 1.121], "range": [370.7, 69], "nice": false, "zero": false},
              "axis": {"orient": "left", "offset": -101, "values": [-1, -0.5, 0, 0.5, 1], "domain": false, "tickSize": 7,
                "labelPadding": 10.5, "labelAngle": -90, "labelAlign": "center", "labelBaseline": "alphabetic",
                "labelExpr": "replace(format(datum.value,'.1f'),'\u2212','-')",
                "title": "Coefficients", "titleAngle": 270, "titleX": -45.2, "titleY": 219.85, "titleBaseline": "alphabetic", "titleAlign": "center"}},
            "color": {"field": "pal", "type": "nominal",
              "scale": {"domain": ["1", "2", "3", "4", "5", "6"], "range": ["#000000", "#DF536B", "#61D04F", "#2297E6", "#28E2E5", "#CD0BBC"]},
              "legend": null},
            "detail": {"field": "curve", "type": "nominal"}
          }
        },
        {
          "data": {"values": [{}]},
          "mark": {"type": "rect", "fillOpacity": 0, "stroke": "#3a3a3a", "strokeWidth": 1},
          "encoding": {
            "x": {"datum": -7.436}, "x2": {"datum": -1.099},
            "y": {"datum": 1.121}, "y2": {"datum": -1.261}
          }
        }
      ]
    },
    {
      "data": {"values": [{"logLambda": -7}, {"logLambda": -2}]},
      "mark": {"type": "point", "opacity": 0},
      "encoding": {
        "x": {"field": "logLambda", "type": "quantitative",
          "scale": {"domain": [-7.436, -1.099], "range": [101, 445.7], "nice": false, "zero": false},
          "axis": {"orient": "top", "offset": -69, "values": [-7, -6, -5, -4, -3, -2], "ticks": false, "tickSize": 0, "domain": false,
            "labelPadding": 16.8, "labelBaseline": "alphabetic",
            "labelExpr": "['45','45','38','25','13','6'][round(datum.index*5)]",
            "title": "A", "titleX": 61.2, "titleY": -15.5, "titleAngle": 0, "titleAlign": "center", "titleBaseline": "alphabetic",
            "titleFontSize": 27, "titleFontWeight": "bold", "titleColor": "#000000"}}
      }
    },
    {
      "data": {"name": "cv"},
      "layer": [
        {
          "mark": {"type": "rule", "color": "#b3b3b3", "strokeWidth": 1},
          "encoding": {
            "x": {"field": "logLambda", "type": "quantitative",
              "scale": {"domain": [-7.428, -1.106], "range": [535.7, 880], "nice": false, "zero": false},
              "axis": {"orient": "bottom", "offset": -176.3, "values": [-7, -6, -5, -4, -3, -2], "domain": false, "tickSize": 7,
                "labelPadding": 19, "labelBaseline": "alphabetic", "labelExpr": "replace(format(datum.value,'d'),'\u2212','-')",
                "title": "Log(λ)", "titleX": 707.85, "titleY": 52.3, "titleBaseline": "alphabetic", "titleAlign": "center"}},
            "y": {"field": "cvlo", "type": "quantitative",
              "scale": {"domain": [9.753, 13.081], "range": [370.7, 69], "nice": false, "zero": false},
              "axis": {"orient": "left", "offset": -535.7, "values": [10, 10.5, 11, 11.5, 12, 12.5, 13], "domain": false, "tickSize": 7,
                "labelPadding": 11, "labelAngle": -90, "labelAlign": "center", "labelBaseline": "alphabetic",
                "labelExpr": "format(datum.value,'.1f')",
                "title": "Partial Likelihood Deviance", "titleAngle": 270, "titleX": -46.5, "titleY": 219.85, "titleBaseline": "alphabetic", "titleAlign": "center"}},
            "y2": {"field": "cvup"}
          }
        },
        {
          "mark": {"type": "tick", "orient": "horizontal", "color": "#b3b3b3", "size": 6, "thickness": 1},
          "encoding": {
            "x": {"field": "logLambda", "type": "quantitative"},
            "y": {"field": "cvup", "type": "quantitative"}
          }
        },
        {
          "mark": {"type": "tick", "orient": "horizontal", "color": "#b3b3b3", "size": 6, "thickness": 1},
          "encoding": {
            "x": {"field": "logLambda", "type": "quantitative"},
            "y": {"field": "cvlo", "type": "quantitative"}
          }
        },
        {
          "mark": {"type": "point", "filled": true, "color": "#ff0000", "opacity": 1, "size": 17},
          "encoding": {
            "x": {"field": "logLambda", "type": "quantitative"},
            "y": {"field": "cvm", "type": "quantitative"}
          }
        },
        {
          "data": {"values": [{"logLambda": -3.106, "which": "lambda.min"}, {"logLambda": -1.99, "which": "lambda.1se"}]},
          "mark": {"type": "rule", "color": "#444444", "strokeWidth": 1, "strokeDash": [1.5, 2]},
          "encoding": {
            "x": {"field": "logLambda", "type": "quantitative"},
            "y": {"datum": 13.081},
            "y2": {"datum": 9.753}
          }
        },
        {
          "data": {"values": [{}]},
          "mark": {"type": "rect", "fillOpacity": 0, "stroke": "#3a3a3a", "strokeWidth": 1},
          "encoding": {
            "x": {"datum": -7.428}, "x2": {"datum": -1.106},
            "y": {"datum": 13.081}, "y2": {"datum": 9.753}
          }
        }
      ]
    },
    {
      "data": {"values": [{"logLambda": -7.103}, {"logLambda": -1.339}]},
      "mark": {"type": "point", "opacity": 0},
      "encoding": {
        "x": {"field": "logLambda", "type": "quantitative",
          "scale": {"domain": [-7.428, -1.106], "range": [535.7, 880], "nice": false, "zero": false},
          "axis": {"orient": "top", "offset": -69,
            "values": [-7.103, -6.824, -6.545, -6.266, -5.988, -5.709, -5.43, -5.151, -4.872, -4.593, -4.314, -4.035, -3.756, -3.478, -3.199, -2.92, -2.641, -2.455, -2.269, -2.083, -1.897, -1.711, -1.525, -1.339],
            "ticks": false, "tickSize": 0, "domain": false,
            "labelPadding": 16.8, "labelBaseline": "alphabetic",
            "labelExpr": "['45','45','45','45','45','43','41','40','36','31','28','25','18','17','13','12','12','9','7','6','5','3','2','0'][round(datum.index*23)]",
            "title": "B", "titleX": 493.2, "titleY": -16.2, "titleAngle": 0, "titleAlign": "center", "titleBaseline": "alphabetic",
            "titleFontSize": 27, "titleFontWeight": "bold", "titleColor": "#000000"}}
      }
    },
    {
      "data": {"name": "coefs"},
      "mark": {"type": "bar", "stroke": "#1a1a1a", "strokeWidth": 1},
      "encoding": {
        "y": {"field": "gene", "type": "nominal", "sort": null,
          "scale": {"domain": ["EPS8", "PLAU", "FEN1", "BUB1B", "GSK3B", "HOXC4", "NOG", "SERPINE1", "TOP2A", "EPOR", "GH1", "TRPV1", "HIC1", "GDF11"],
            "range": [37.6, 386], "paddingInner": 0.2, "paddingOuter": 0.2},
          "axis": {"orient": "left", "offset": -1018, "domain": true, "domainColor": "#333333", "domainWidth": 1.1, "tickSize": 4,
            "labelPadding": 2.5, "labelFontSize": 11.8, "labelColor": "#2b2b2b", "labelBaseline": "middle",
            "title": "C", "titleX": -79.8, "titleY": 53.5, "titleAngle": 0, "titleAlign": "center", "titleBaseline": "alphabetic",
            "titleFontSize": 27, "titleFontWeight": "bold", "titleColor": "#000000"}},
        "x": {"field": "coef", "type": "quantitative",
          "scale": {"domain": [-0.2357, 0.318], "range": [1018, 1316], "nice": false, "zero": false},
          "axis": {"orient": "bottom", "offset": -161, "values": [-0.2, -0.1, 0, 0.1, 0.2, 0.3], "domain": true, "domainColor": "#333333", "domainWidth": 1.1,
            "tickSize": 4, "labelPadding": 9.5, "labelBaseline": "alphabetic", "labelFontSize": 11.8, "labelColor": "#2b2b2b",
            "labelExpr": "replace(format(datum.value,'.1f'),'\u2212','-')",
            "title": "Coeffecients", "titleX": 1167, "titleY": 28.2, "titleBaseline": "alphabetic", "titleAlign": "center"}},
        "x2": {"datum": 0},
        "color": {"condition": {"test": "datum.coef > 0", "value": "#E41A1C"}, "value": "#377EB8"}
      }
    }
  ],
  "resolve": {
    "scale": {"x": "independent", "y": "independent", "color": "independent"},
    "axis": {"x": "independent", "y": "independent"}
  }
}
